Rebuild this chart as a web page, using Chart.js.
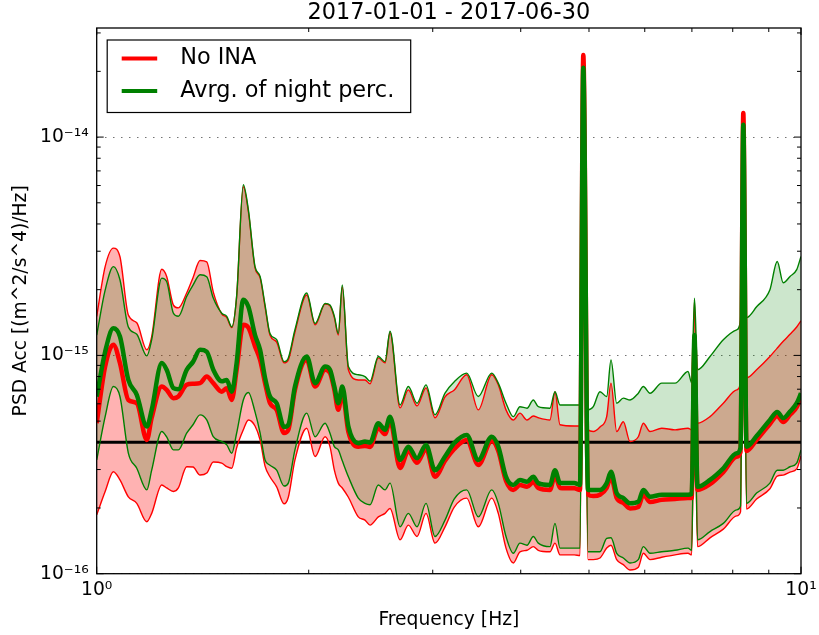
<!DOCTYPE html>
<html><head><meta charset="utf-8">
<script src="https://cdn.jsdelivr.net/npm/chart.js@4.4.1/dist/chart.umd.min.js"></script>
<style>html,body{margin:0;padding:0;background:#fff;}#wrap{width:819px;height:635px;}</style>
</head><body><div id="wrap"><canvas id="c" width="819" height="635"></canvas></div>
<script>
const chartTitle = '2017-01-01 - 2017-06-30';
const xAxisTitle = 'Frequency [Hz]';
const yAxisTitle = 'PSD Acc [(m^2/s^4)/Hz]';
const seriesNames = ['No INA', 'Avrg. of night perc.'];

const frequencyHz = [
1.000,1.028,1.056,1.079,1.109,1.140,1.178,1.197,1.237,1.257,1.285,1.306,1.342,1.370,1.402,1.433,1.464,
1.505,1.530,1.555,1.580,1.615,1.642,1.678,1.706,1.734,1.762,1.801,1.845,1.871,1.912,1.987,2.042,2.110,2.144,2.175,
2.203,2.232,2.277,2.352,2.404,2.444,2.511,2.567,2.609,2.696,2.770,2.850,2.935,3.022,3.123,3.219,
3.352,3.482,3.638,3.717,3.812,3.904,3.990,4.083,4.168,4.236,4.401,4.474,4.548,4.766,
4.855,4.908,4.984,
5.071,5.183,5.298,5.373,5.474,5.594,5.718,5.875,5.972,6.104,6.342,6.624,6.911,
6.995,7.059,7.129,
7.427,7.757,8.104,8.206,8.281,8.368,
8.649,9.034,9.252,9.436,9.647,9.861,10.00];

// "Avrg. of night perc." (green): average, upper and lower percentile
const nightAvg = [
6.48e-16,1.04e-15,1.33e-15,1.22e-15,7.72e-16,6.60e-16,4.72e-16,5.63e-16,9.22e-16,8.59e-16,7.08e-16,7.00e-16,8.59e-16,9.34e-16,1.06e-15,1.04e-15,8.59e-16,
7.61e-16,7.72e-16,6.82e-16,9.22e-16,1.80e-15,1.67e-15,1.24e-15,1.06e-15,7.89e-16,6.48e-16,6.04e-16,4.70e-16,4.81e-16,7.20e-16,9.88e-16,7.46e-16,8.89e-16,8.59e-16,7.20e-16,
6.04e-16,7.20e-16,4.72e-16,3.96e-16,4.03e-16,3.99e-16,4.89e-16,4.56e-16,5.24e-16,3.32e-16,3.82e-16,3.38e-16,3.89e-16,2.98e-16,3.44e-16,3.97e-16,
4.32e-16,3.32e-16,4.24e-16,3.82e-16,2.78e-16,2.55e-16,2.69e-16,2.64e-16,2.78e-16,2.60e-16,2.55e-16,2.98e-16,2.60e-16,2.60e-16,
2.55e-16,2.08e-14,2.42e-16,
2.42e-16,2.42e-16,2.60e-16,2.93e-16,2.34e-16,2.22e-16,2.10e-16,2.14e-16,2.42e-16,2.25e-16,2.30e-16,2.30e-16,2.30e-16,
2.32e-16,1.24e-15,2.50e-16,
2.69e-16,3.04e-16,3.56e-16,3.77e-16,1.14e-14,3.82e-16,
4.27e-16,5.06e-16,5.51e-16,5.16e-16,5.53e-16,6.04e-16,6.71e-16];
const nightUpper = [
1.24e-15,1.99e-15,2.55e-15,2.22e-15,1.35e-15,1.25e-15,9.95e-16,1.18e-15,2.26e-15,2.18e-15,1.56e-15,1.51e-15,1.86e-15,2.10e-15,2.34e-15,2.29e-15,1.83e-15,
1.56e-15,1.51e-15,1.35e-15,1.86e-15,6.05e-15,4.64e-15,2.55e-15,2.30e-15,1.70e-15,1.26e-15,1.18e-15,9.36e-16,9.74e-16,1.31e-15,1.93e-15,1.40e-15,1.73e-15,1.70e-15,1.51e-15,
1.26e-15,2.10e-15,8.89e-16,8.15e-16,8.00e-16,7.61e-16,9.88e-16,9.36e-16,1.29e-15,5.93e-16,7.20e-16,6.04e-16,7.33e-16,5.34e-16,6.71e-16,7.57e-16,
8.29e-16,6.48e-16,8.29e-16,7.46e-16,6.04e-16,5.24e-16,5.82e-16,5.73e-16,6.25e-16,5.82e-16,5.73e-16,6.82e-16,5.93e-16,5.93e-16,
5.93e-16,2.08e-14,5.63e-16,
5.82e-16,6.82e-16,6.48e-16,9.54e-16,6.04e-16,6.37e-16,6.25e-16,6.71e-16,7.20e-16,6.71e-16,7.46e-16,7.46e-16,8.44e-16,
7.48e-16,1.83e-15,8.59e-16,
9.88e-16,1.18e-15,1.31e-15,1.45e-15,1.14e-14,1.49e-15,
1.67e-15,2.00e-15,2.69e-15,2.15e-15,2.30e-15,2.47e-15,2.84e-15];
const nightLower = [
3.32e-16,5.24e-16,7.20e-16,6.48e-16,3.57e-16,3.04e-16,2.42e-16,2.98e-16,4.48e-16,4.23e-16,3.69e-16,3.69e-16,4.40e-16,4.81e-16,5.34e-16,5.06e-16,4.24e-16,
4.03e-16,3.89e-16,3.56e-16,4.40e-16,6.25e-16,6.76e-16,5.51e-16,4.41e-16,3.32e-16,3.14e-16,2.98e-16,2.52e-16,2.60e-16,3.69e-16,5.44e-16,4.24e-16,4.89e-16,4.40e-16,3.82e-16,
3.69e-16,3.29e-16,2.78e-16,2.22e-16,2.10e-16,2.07e-16,2.55e-16,2.42e-16,2.60e-16,1.64e-16,1.89e-16,1.64e-16,2.10e-16,1.48e-16,1.76e-16,2.20e-16,
2.42e-16,1.82e-16,2.42e-16,2.10e-16,1.48e-16,1.24e-16,1.38e-16,1.35e-16,1.48e-16,1.38e-16,1.33e-16,1.70e-16,1.31e-16,1.31e-16,
1.31e-16,1.48e-14,1.26e-16,
1.26e-16,1.26e-16,1.45e-16,1.46e-16,1.24e-16,1.18e-16,1.12e-16,1.16e-16,1.33e-16,1.24e-16,1.26e-16,1.28e-16,1.31e-16,
1.28e-16,7.72e-16,1.43e-16,
1.56e-16,1.70e-16,1.96e-16,2.04e-16,7.87e-15,2.10e-16,
2.34e-16,2.60e-16,2.98e-16,2.98e-16,3.09e-16,3.21e-16,3.69e-16];

// "No INA" (red): median, upper and lower percentile
const noInaMedian = [
4.89e-16,8.89e-16,1.12e-15,9.22e-16,6.25e-16,6.04e-16,4.10e-16,5.18e-16,7.20e-16,6.95e-16,6.37e-16,6.48e-16,7.33e-16,7.41e-16,7.46e-16,8.00e-16,7.46e-16,
6.82e-16,7.08e-16,6.25e-16,8.59e-16,1.38e-15,1.34e-15,1.10e-15,9.54e-16,7.46e-16,6.04e-16,5.63e-16,4.41e-16,4.56e-16,6.95e-16,9.54e-16,7.20e-16,8.59e-16,8.32e-16,6.95e-16,
5.63e-16,6.76e-16,4.46e-16,3.82e-16,3.85e-16,3.81e-16,4.65e-16,4.36e-16,5.01e-16,3.05e-16,3.65e-16,3.22e-16,3.73e-16,2.78e-16,3.29e-16,3.73e-16,
4.10e-16,3.15e-16,4.05e-16,3.65e-16,2.66e-16,2.42e-16,2.55e-16,2.50e-16,2.63e-16,2.47e-16,2.42e-16,2.83e-16,2.47e-16,2.46e-16,
2.42e-16,2.38e-14,2.30e-16,
2.27e-16,2.30e-16,2.47e-16,2.78e-16,2.22e-16,2.11e-16,1.99e-16,2.02e-16,2.30e-16,2.13e-16,2.18e-16,2.20e-16,2.22e-16,
2.22e-16,1.12e-15,2.42e-16,
2.57e-16,2.92e-16,3.43e-16,3.61e-16,1.29e-14,3.65e-16,
4.10e-16,4.85e-16,5.28e-16,4.95e-16,5.34e-16,5.80e-16,6.46e-16];
const noInaUpper = [
1.51e-15,2.55e-15,3.10e-15,2.83e-15,1.53e-15,1.41e-15,1.06e-15,1.22e-15,2.48e-15,2.30e-15,1.70e-15,1.65e-15,1.93e-15,2.27e-15,2.72e-15,2.68e-15,1.95e-15,
1.55e-15,1.49e-15,1.34e-15,1.85e-15,5.92e-15,4.55e-15,2.52e-15,2.27e-15,1.67e-15,1.24e-15,1.15e-15,9.24e-16,9.54e-16,1.28e-15,1.89e-15,1.38e-15,1.72e-15,1.69e-15,1.49e-15,
1.24e-15,2.06e-15,8.59e-16,7.72e-16,7.72e-16,7.41e-16,9.74e-16,9.24e-16,1.27e-15,5.75e-16,6.95e-16,5.87e-16,7.10e-16,5.18e-16,6.46e-16,6.95e-16,
8.15e-16,5.63e-16,8.15e-16,7.33e-16,5.63e-16,5.06e-16,5.44e-16,5.06e-16,5.28e-16,5.18e-16,5.06e-16,6.82e-16,4.81e-16,4.75e-16,
4.75e-16,2.38e-14,4.56e-16,
4.48e-16,4.70e-16,5.24e-16,7.46e-16,4.48e-16,4.97e-16,4.03e-16,4.24e-16,4.89e-16,4.48e-16,4.64e-16,4.56e-16,4.64e-16,
4.56e-16,1.80e-15,4.89e-16,
5.24e-16,6.04e-16,6.95e-16,7.48e-16,1.29e-14,7.89e-16,
8.59e-16,9.88e-16,1.08e-15,1.16e-15,1.25e-15,1.35e-15,1.44e-15];
const noInaLower = [
1.86e-16,2.38e-16,2.93e-16,2.69e-16,2.25e-16,2.10e-16,1.73e-16,1.89e-16,2.55e-16,2.47e-16,2.38e-16,2.47e-16,3.09e-16,3.08e-16,2.83e-16,2.89e-16,3.25e-16,
3.21e-16,3.09e-16,3.04e-16,3.77e-16,4.56e-16,5.06e-16,4.75e-16,4.10e-16,3.11e-16,2.78e-16,2.50e-16,2.09e-16,2.24e-16,3.32e-16,4.64e-16,3.44e-16,4.24e-16,3.82e-16,2.98e-16,
2.60e-16,2.47e-16,2.24e-16,1.82e-16,1.76e-16,1.67e-16,1.82e-16,1.89e-16,1.99e-16,1.43e-16,1.67e-16,1.48e-16,1.89e-16,1.38e-16,1.64e-16,2.02e-16,
2.22e-16,1.64e-16,2.22e-16,1.89e-16,1.31e-16,1.12e-16,1.26e-16,1.28e-16,1.33e-16,1.28e-16,1.26e-16,1.38e-16,1.22e-16,1.22e-16,
1.21e-16,1.41e-14,1.16e-16,
1.16e-16,1.18e-16,1.31e-16,1.35e-16,1.16e-16,1.10e-16,1.04e-16,1.07e-16,1.24e-16,1.16e-16,1.19e-16,1.22e-16,1.24e-16,
1.22e-16,7.33e-16,1.33e-16,
1.46e-16,1.60e-16,1.84e-16,1.92e-16,7.46e-15,1.98e-16,
2.20e-16,2.45e-16,2.80e-16,2.83e-16,2.92e-16,3.02e-16,3.46e-16];

const thresholdLevel = 4e-16;
const xRange = [1, 10];
const yRange = [1e-16, 3.16e-14];

const RED = '#ff0000', GREEN = '#008000';
const FONT = "'DejaVu Sans', 'Liberation Sans', sans-serif";
Chart.defaults.font.family = FONT;
Chart.defaults.color = '#000';

const pts = arr => frequencyHz.map((f, i) => ({x: f, y: arr[i]}));
const SUP = {'0':'⁰','1':'¹','2':'²','3':'³','4':'⁴','5':'⁵','6':'⁶','7':'⁷','8':'⁸','9':'⁹','-':'⁻'};
function decadeLabel(v) {
  const e = Math.log10(v);
  const r = Math.round(e);
  if (Math.abs(e - r) > 1e-6) return '';
  return '10' + String(r).split('').map(c => SUP[c]).join('');
}
function isDecade(v) { const e = Math.log10(v); return Math.abs(e - Math.round(e)) < 1e-6; }

const datasets = [
  {label: seriesNames[1], data: pts(nightAvg), borderColor: GREEN, borderWidth: 4.5, fill: false},
  {label: seriesNames[0], data: pts(noInaMedian), borderColor: RED, borderWidth: 4.5, fill: false},
  {label: 'night upper', data: pts(nightUpper), borderColor: GREEN, borderWidth: 1.4, fill: '+1', backgroundColor: 'rgba(0,128,0,0.2)'},
  {label: 'night lower', data: pts(nightLower), borderColor: GREEN, borderWidth: 1.4, fill: false},
  {label: 'no INA upper', data: pts(noInaUpper), borderColor: RED, borderWidth: 1.4, fill: '+1', backgroundColor: 'rgba(255,0,0,0.3)'},
  {label: 'no INA lower', data: pts(noInaLower), borderColor: RED, borderWidth: 1.4, fill: false},
  {label: 'level', data: [{x: xRange[0], y: thresholdLevel}, {x: xRange[1], y: thresholdLevel}], borderColor: '#000', borderWidth: 3, fill: false}
];
datasets.forEach(d => { d.pointRadius = 0; d.cubicInterpolationMode = 'monotone'; d.borderJoinStyle = 'round'; d.borderCapStyle = 'butt'; });

const frame = {
  id: 'frame',
  afterDatasetsDraw(chart) {
    const {ctx, chartArea: a, scales: {x, y}} = chart;
    ctx.save();
    ctx.strokeStyle = '#000';
    ctx.lineWidth = 1;
    ctx.beginPath();
    for (let e = 0; e <= 1; e++) for (let m = 1; m <= 9; m++) {
      const v = m * Math.pow(10, e);
      if (v < xRange[0] || v > xRange[1]) continue;
      const px = x.getPixelForValue(v), len = m === 1 ? 7 : 4;
      ctx.moveTo(px, a.bottom); ctx.lineTo(px, a.bottom - len);
      ctx.moveTo(px, a.top); ctx.lineTo(px, a.top + len);
    }
    for (let e = -16; e <= -14; e++) for (let m = 1; m <= 9; m++) {
      const v = m * Math.pow(10, e);
      if (v < yRange[0] * 0.999 || v > yRange[1]) continue;
      const py = y.getPixelForValue(v), len = m === 1 ? 7 : 4;
      ctx.moveTo(a.left, py); ctx.lineTo(a.left + len, py);
      ctx.moveTo(a.right, py); ctx.lineTo(a.right - len, py);
    }
    ctx.stroke();
    ctx.lineWidth = 1.3;
    ctx.strokeRect(a.left, a.top, a.right - a.left, a.bottom - a.top);
    ctx.restore();
  }
};

const boxLegend = {
  id: 'boxLegend',
  afterDraw(chart) {
    const {ctx, chartArea: a} = chart;
    const items = [chart.data.datasets[1], chart.data.datasets[0]];
    const bx = a.left + 10.5, by = a.top + 12, bw = 303.5, bh = 72.5;
    ctx.save();
    ctx.fillStyle = '#fff';
    ctx.fillRect(bx, by, bw, bh);
    ctx.strokeStyle = '#000'; ctx.lineWidth = 1.2;
    ctx.strokeRect(bx, by, bw, bh);
    ctx.font = '22.4px ' + FONT;
    ctx.textBaseline = 'middle';
    items.forEach((ds, k) => {
      const yy = by + 18.5 + k * 32.6;
      ctx.strokeStyle = ds.borderColor; ctx.lineWidth = 4;
      ctx.beginPath(); ctx.moveTo(bx + 14.5, yy); ctx.lineTo(bx + 50, yy); ctx.stroke();
      ctx.fillStyle = '#000';
      ctx.fillText(ds.label, bx + 73, yy);
    });
    ctx.restore();
  }
};

new Chart(document.getElementById('c'), {
  type: 'line',
  data: {datasets},
  options: {
    responsive: false,
    animation: false,
    devicePixelRatio: 1,
    layout: {padding: {left: 0, right: 18, top: 0, bottom: 0}},
    plugins: {
      legend: {display: false},
      tooltip: {enabled: false},
      filler: {drawTime: 'beforeDatasetsDraw'},
      title: {display: true, fullSize: false, text: chartTitle, color: '#000', font: {size: 22.4, weight: 'normal'}, padding: {top: 0, bottom: 1.12}}
    },
    scales: {
      x: {
        type: 'logarithmic', min: xRange[0], max: xRange[1],
        grid: {display: false, drawTicks: false},
        border: {display: false},
        ticks: {autoSkip: false, maxRotation: 0, minRotation: 0, padding: 5, color: '#000', font: {size: 18.7}, callback: v => decadeLabel(v)},
        title: {display: true, text: xAxisTitle, color: '#000', font: {size: 18.7}, padding: {top: 0, bottom: 4}},
        afterFit: s => { s.height = 61.3; s.paddingLeft = 0; s.paddingRight = 0; }
      },
      y: {
        type: 'logarithmic', min: yRange[0], max: yRange[1],
        grid: {drawTicks: false, lineWidth: 1, color: c => (c.tick && isDecade(c.tick.value)) ? 'rgba(0,0,0,0.55)' : 'rgba(0,0,0,0)'},
        border: {display: false, dash: [1.5, 6.5]},
        ticks: {autoSkip: false, padding: 8, color: '#000', font: {size: 18.7}, callback: v => decadeLabel(v)},
        title: {display: true, text: yAxisTitle, color: '#000', font: {size: 18.7}, padding: {top: 10, bottom: 0}},
        afterFit: s => { s.width = 96.7; s.paddingTop = 0; s.paddingBottom = 0; }
      }
    }
  },
  plugins: [frame, boxLegend]
});
</script>
</body></html>
